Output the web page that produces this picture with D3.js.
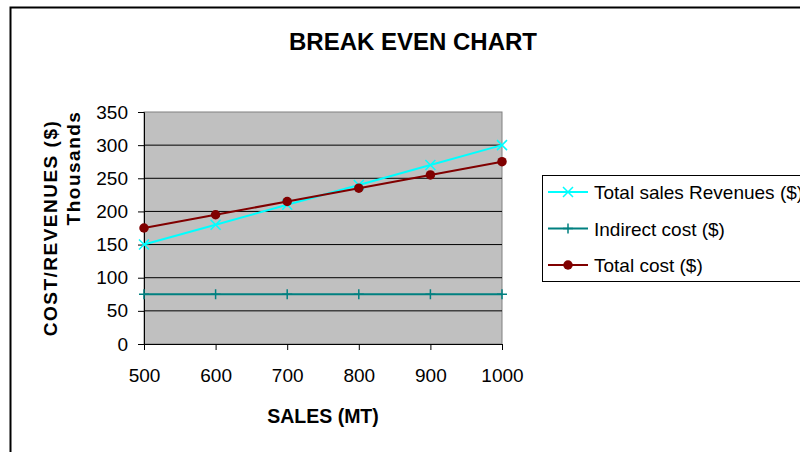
<!DOCTYPE html>
<html>
<head>
<meta charset="utf-8">
<script src="https://cdn.jsdelivr.net/npm/d3@7"></script>
<style>
  body { margin: 0; background: #fff; }
  svg { font-family: "Liberation Sans", Arial, sans-serif; }
</style>
</head>
<body>
<svg id="chart" width="800" height="452"></svg>
<script>
// данные
const sales = [500, 600, 700, 800, 900, 1000];
const revenues = [150, 180, 210, 240, 270, 300];
const indirectCost = [75, 75, 75, 75, 75, 75];
const totalCost = [175, 195, 215, 235, 255, 275];
const yTicks = [0, 50, 100, 150, 200, 250, 300, 350];

const series = [
    { name: "Total sales Revenues ($)", values: revenues, color: "#00ffff", marker: "x" },
    { name: "Indirect cost ($)", values: indirectCost, color: "#008080", marker: "plus" },
    { name: "Total cost ($)", values: totalCost, color: "#800000", marker: "circle" }
];

const svg = d3.select("#chart");

// рамка всей диаграммы
svg.append("rect")
    .attr("x", 10.5).attr("y", 7.5)
    .attr("width", 800).attr("height", 460)
    .attr("fill", "#fff")
    .attr("stroke", "#000").attr("stroke-width", 2);

const area = { left: 144, right: 502, top: 112, bottom: 344 };

const scX = d3.scalePoint().domain(sales).range([area.left, area.right]);
const scY = d3.scaleLinear().domain([0, 350]).range([area.bottom, area.top]);

// фон области построения
svg.append("rect")
    .attr("x", area.left).attr("y", area.top)
    .attr("width", area.right - area.left).attr("height", area.bottom - area.top)
    .attr("fill", "#c0c0c0")
    .attr("stroke", "#808080").attr("stroke-width", 1);

// сетка
svg.append("g")
    .selectAll("line")
    .data(yTicks.slice(1, -1))
    .join("line")
    .attr("x1", area.left).attr("x2", area.right)
    .attr("y1", d => scY(d)).attr("y2", d => scY(d))
    .attr("stroke", "#000").attr("stroke-width", 1);

// ось Y
const axY = svg.append("g")
    .attr("transform", `translate(${area.left},0)`)
    .call(d3.axisLeft(scY).tickValues(yTicks).tickSize(6).tickPadding(10));
axY.select(".domain").attr("stroke", "#000");
axY.selectAll("text").attr("font-size", 19).attr("fill", "#000");

// ось X
const axX = svg.append("g")
    .attr("transform", `translate(0,${area.bottom})`)
    .call(d3.axisBottom(scX).tickSize(6).tickPadding(19));
axX.select(".domain").attr("stroke", "#000");
axX.selectAll("text").attr("font-size", 19).attr("fill", "#000");

// маркеры
function drawMarker(g, type, color, size) {
    if (type === "circle") {
        g.append("circle").attr("r", size * 0.95).attr("fill", color);
    } else if (type === "x") {
        g.append("path").attr("d", `M${-size},${-size}L${size},${size}M${-size},${size}L${size},${-size}`)
            .attr("stroke", color).attr("stroke-width", 1.5);
    } else {
        g.append("path").attr("d", `M${-size},0L${size},0M0,${-size}L0,${size}`)
            .attr("stroke", color).attr("stroke-width", 1.5);
    }
}

const line = d3.line().x((d, i) => scX(sales[i])).y(d => scY(d));

for (const s of series) {
    svg.append("path")
        .datum(s.values)
        .attr("d", line)
        .attr("fill", "none")
        .attr("stroke", s.color)
        .attr("stroke-width", 2);
    s.values.forEach((v, i) => {
        const g = svg.append("g").attr("transform", `translate(${scX(sales[i])},${scY(v)})`);
        drawMarker(g, s.marker, s.color, 5);
    });
}

// заголовки
svg.append("text")
    .attr("x", 413).attr("y", 50)
    .attr("text-anchor", "middle")
    .attr("font-size", 24).attr("font-weight", "bold")
    .text("BREAK EVEN CHART");

svg.append("text")
    .attr("transform", "translate(57,228) rotate(-90)")
    .attr("text-anchor", "middle")
    .attr("font-size", 19).attr("font-weight", "bold")
    .attr("letter-spacing", 1.5)
    .text("COST/REVENUES ($)");

svg.append("text")
    .attr("transform", "translate(80,168) rotate(-90)")
    .attr("text-anchor", "middle")
    .attr("font-size", 19).attr("font-weight", "bold")
    .attr("letter-spacing", 1.5)
    .text("Thousands");

svg.append("text")
    .attr("x", 323).attr("y", 423)
    .attr("text-anchor", "middle")
    .attr("font-size", 19.5).attr("font-weight", "bold")
    .text("SALES (MT)");

// легенда
const leg = svg.append("g").attr("transform", "translate(542,175)");
leg.append("rect")
    .attr("x", 0.5).attr("y", 0.5)
    .attr("width", 280).attr("height", 106)
    .attr("fill", "#fff")
    .attr("stroke", "#000").attr("stroke-width", 1);

series.forEach((s, i) => {
    const y = 17 + i * 36.5;
    const g = leg.append("g").attr("transform", `translate(0,${y})`);
    g.append("line").attr("x1", 6).attr("x2", 46).attr("y1", 0).attr("y2", 0)
        .attr("stroke", s.color).attr("stroke-width", 2);
    drawMarker(g.append("g").attr("transform", "translate(26,0)"), s.marker, s.color, 5);
    g.append("text").attr("x", 52).attr("y", 7)
        .attr("font-size", 19).text(s.name);
});
</script>
</body>
</html>
